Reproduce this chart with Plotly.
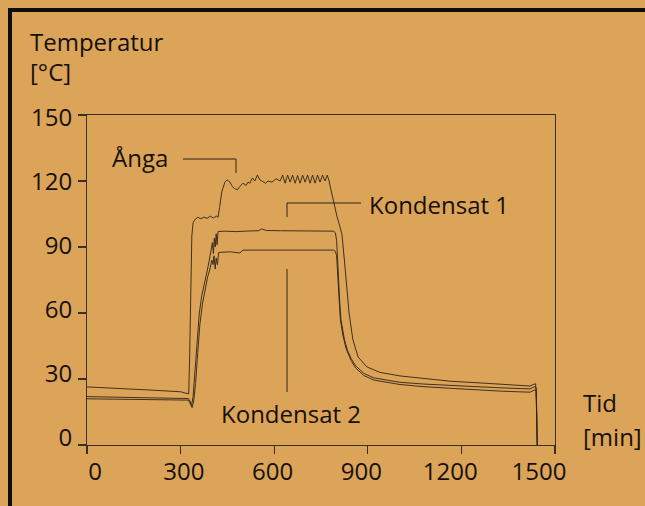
import plotly.graph_objects as go

# ---------------- data ----------------
x_ticks = [0, 300, 600, 900, 1200, 1500]
x_ticktext = ["0", "300", "600", "900", "1200", "1500"]
y_ticks = [0, 30, 60, 90, 120, 150]
y_ticktext = ["0", "30", "60", "90", "120", "150"]

anga_t = [0, 100, 200, 300, 320, 326, 329, 332, 336, 340, 346, 355, 365, 375, 385,
          395, 405, 415, 420, 425, 432, 442, 449, 458, 466, 474, 482, 490, 500, 510,
          516, 522, 530, 538, 546, 554, 564, 572, 580, 593, 606, 619, 627, 635, 643,
          651, 659, 667, 675, 683, 691, 699, 707, 715, 723, 731, 739, 747, 755, 763,
          770, 776, 782, 789, 795, 801, 809, 817, 824, 833, 840, 852, 869, 897, 939,
          1003, 1080, 1163, 1250, 1324, 1380, 1420, 1432, 1438, 1441, 1443]
anga_v = [26.4, 25.8, 25.0, 24.2, 23.6, 23.2, 40, 75, 95, 101, 102.5, 103.5, 102.8, 103.6, 103,
          104, 103.2, 104, 103.5, 108, 115, 119.5, 120.5, 119.5, 117.5, 116.5, 116, 117.5, 119, 118,
          119.5, 119, 121.4, 120, 122.7, 120.5, 119.5, 119, 120, 119.5, 121, 120, 122.7, 119, 122.7,
          119.5, 122.7, 119, 122.5, 119, 122.7, 119.5, 122.7, 119, 122.7, 119, 122.7, 119.5, 122.7, 120,
          122.7, 120, 116, 111, 107, 104, 100, 96, 85.5, 72, 60, 48, 40, 35.5, 33,
          31.4, 30.2, 29, 28.3, 27.7, 27.2, 26.8, 27.6, 27.8, 15, 0]

k1_t = [0, 100, 200, 300, 325, 330, 335, 340, 345, 352, 360, 368, 376, 385, 392,
        398, 402, 405, 408, 411, 414, 417, 420, 440, 480, 520, 550, 560, 575, 620,
        680, 740, 790, 796, 800, 803, 806, 810, 814, 825, 835, 846, 861, 888, 920,
        1003, 1080, 1163, 1250, 1324, 1380, 1420, 1434, 1440, 1443]
k1_v = [22.0, 21.8, 21.6, 21.3, 21.1, 20, 18, 22, 32, 48, 60, 68, 74, 79, 84,
        88, 92, 87, 94, 90, 96, 91, 97, 97.2, 97.0, 97.3, 97.4, 98.2, 97.5, 97.4,
        97.3, 97.4, 97.2, 96.5, 93, 85, 75, 65, 57, 48, 43, 39.5, 36, 32.5, 30.5,
        28.5, 27.7, 27, 26.5, 26, 25.8, 25.5, 26.5, 26, 0]

k2_t = [0, 100, 200, 300, 325, 332, 337, 342, 348, 355, 362, 370, 378, 386, 394,
        400, 404, 407, 411, 414, 418, 422, 430, 460, 490, 500, 560, 620, 700, 790,
        796, 800, 804, 808, 812, 820, 830, 846, 861, 888, 920, 1003, 1080, 1163, 1250,
        1324, 1380, 1420, 1434, 1440, 1443]
k2_v = [21.0, 20.9, 20.7, 20.5, 20.4, 18.5, 17, 20, 28, 42, 55, 64, 71, 76, 80,
        84, 82, 86, 80, 85, 82, 87.5, 87.6, 87.8, 87.3, 88.6, 88.6, 88.5, 88.6, 88.6,
        88, 86, 75, 65, 57, 50, 44, 38.5, 35, 31.5, 29.5, 27.5, 26.5, 25.8, 25,
        24.5, 24.2, 24, 25, 24.5, 0]

series = [("Ånga", anga_t, anga_v), ("Kondensat 1", k1_t, k1_v), ("Kondensat 2", k2_t, k2_v)]

# ---------------- layout geometry ----------------
W, H = 645, 506
L, R, T, B = 87, 555, 115, 445  # plot area in pixels

def P(px, py):
    """pixel -> paper coordinates"""
    return (px - L) / (R - L), (B - py) / (B - T)

BG = "#DCA458"
INK = "#15100b"
LINE = "#2c2418"
FONT = "Open Sans"
FS = 24
FW = 500

fig = go.Figure()
for name, t, v in series:
    assert len(t) == len(v), name
    fig.add_trace(go.Scatter(x=t, y=v, mode="lines", name=name,
                             line=dict(color=LINE, width=0.9), showlegend=False))
# dummy trace to carry the label axes
fig.add_trace(go.Scatter(x=[None], y=[None], xaxis="x2", yaxis="y2",
                         showlegend=False, hoverinfo="skip"))

shapes = []
def seg(p1, p2, w=1.0, color=LINE):
    x0, y0 = P(*p1)
    x1, y1 = P(*p2)
    shapes.append(dict(type="line", xref="paper", yref="paper",
                       x0=x0, y0=y0, x1=x1, y1=y1,
                       line=dict(color=color, width=w)))

# outer frame (left and top)
seg((10, 8), (10, 520), w=4, color="#0d0d0d")
seg((8, 10), (660, 10), w=4, color="#0d0d0d")
# leader lines
seg((183, 159), (236, 159))
seg((236, 159), (236, 173))
seg((361, 203), (287, 203))
seg((287, 203), (287, 217))
seg((287, 269), (287, 392))

annotations = []
def label(text, px, py):
    x, y = P(px, py)
    annotations.append(dict(text=text, x=x, y=y, xref="paper", yref="paper",
                            xanchor="left", yanchor="middle", showarrow=False,
                            font=dict(family=FONT, size=FS, color=INK, weight=FW)))

label("Temperatur", 28, 41)
label("[°C]", 28, 72)
label("Tid", 581, 402)
label("[min]", 581, 436)
label("Ånga", 110, 157)
label("Kondensat 1", 367, 204)
label("Kondensat 2", 219, 413)

axis_common = dict(showgrid=False, zeroline=False, showline=True, linecolor="#3a3020",
                   linewidth=1.2, mirror=True, ticks="outside", ticklen=8,
                   tickcolor="#3a3020", tickwidth=1.2, showticklabels=False)

# label axes: tick labels are slightly compressed relative to the ticks in the original
xl0, xl1 = 95, 539     # pixel centre of "0" and "1500"
xs = (xl1 - xl0) / 1500
yl0, yl1 = 438, 118    # pixel centre of "0" and "150"
ys = (yl0 - yl1) / 150

tickfont = dict(family=FONT, size=FS, color=INK, weight=FW)

fig.update_layout(
    width=W, height=H, autosize=False,
    margin=dict(l=L, r=W - R, t=T, b=H - B, pad=0),
    paper_bgcolor=BG, plot_bgcolor=BG,
    font=dict(family=FONT, size=FS, color=INK),
    xaxis=dict(range=[0, 1500], tickvals=x_ticks, **axis_common),
    yaxis=dict(range=[0, 150], tickvals=y_ticks, **axis_common),
    xaxis2=dict(overlaying="x", anchor="y", side="bottom",
                range=[(L - xl0) / xs, (R - xl0) / xs],
                tickvals=x_ticks, ticktext=x_ticktext, showgrid=False, zeroline=False,
                showline=False, ticks="outside", ticklen=5, tickcolor="rgba(0,0,0,0)",
                tickfont=tickfont),
    yaxis2=dict(overlaying="y", anchor="x", side="left",
                range=[(yl0 - B) / ys, (yl0 - T) / ys],
                tickvals=y_ticks, ticktext=y_ticktext, showgrid=False, zeroline=False,
                showline=False, ticks="outside", ticklen=8, tickcolor="rgba(0,0,0,0)",
                ticklabelstandoff=1, tickfont=tickfont),
    shapes=shapes, annotations=annotations,
)

fig.write_html("out.html",
               config={"displayModeBar": False, "staticPlot": True},
               post_script="document.body.style.margin='0px';"
                           "document.body.style.background='" + BG + "';")
